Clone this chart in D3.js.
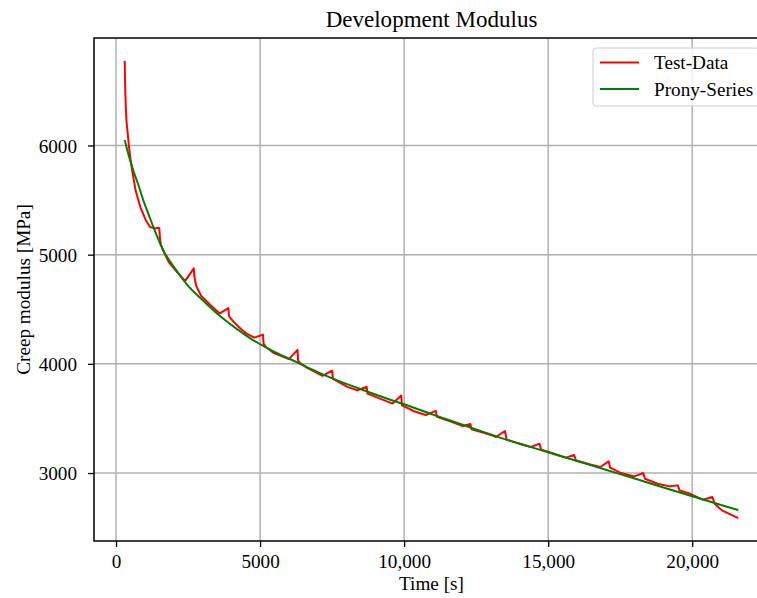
<!DOCTYPE html>
<html>
<head>
<meta charset="utf-8">
<script src="https://cdn.jsdelivr.net/npm/d3@7"></script>
<style>
  html, body { margin: 0; padding: 0; background: #fff; }
  svg { display: block; font-family: "Liberation Serif", "Times New Roman", serif; }
</style>
</head>
<body>
<svg id="chart" width="757" height="598"></svg>
<script>
// Measured creep test data (time in s, modulus in MPa)
const testTime = [300, 315, 335, 360, 390, 445, 500, 560, 680, 850, 1025, 1175, 1350, 1470, 1500,
  1525, 1560, 1662, 1835, 2125, 2400, 2700, 2715, 2780, 2950, 3300, 3600, 3900, 3920, 3980,
  4100, 4270, 4500, 4800, 5100, 5120, 5200, 5480, 6000, 6300, 6320, 6400, 6650, 7170, 7500,
  7530, 8030, 8380, 8700, 8730, 9250, 9600, 9900, 9925, 10350, 10750, 11100, 11140, 11620, 12030,
  12300, 12340, 12670, 13010, 13190, 13500, 13560, 14055, 14400, 14700, 14760, 15020, 15620, 15900, 15960,
  16430, 16810, 17100, 17150, 17530, 17990, 18300, 18360, 18800, 19210, 19500, 19560, 19850, 20370, 20700,
  20780, 21030, 21600];
const testModulus = [6775, 6560, 6380, 6230, 6150, 6000, 5880, 5771, 5587, 5430, 5320, 5255, 5240, 5247, 5242,
  5150, 5090, 5021, 4930, 4838, 4760, 4875, 4805, 4716, 4624, 4532, 4462, 4510, 4440, 4415,
  4380, 4335, 4282, 4240, 4268, 4185, 4155, 4098, 4043, 4128, 4030, 4005, 3960, 3890, 3939,
  3862, 3789, 3758, 3790, 3728, 3673, 3636, 3710, 3620, 3566, 3532, 3569, 3516, 3471, 3431,
  3450, 3401, 3376, 3349, 3330, 3385, 3306, 3263, 3239, 3269, 3214, 3193, 3141, 3165, 3117,
  3080, 3055, 3107, 3049, 3000, 2969, 3000, 2948, 2902, 2878, 2887, 2841, 2817, 2756, 2780,
  2719, 2658, 2587];

// Fitted Prony-series modulus
const pronyTime = [300, 450, 600, 800, 950, 1100, 1300, 1650, 2100, 2450, 3000, 3600, 4200, 4700,
  5500, 6300, 7000, 7600, 8500, 9300, 10000, 11000, 12000, 12650, 13300, 14000, 15000, 16000,
  17000, 18000, 19000, 20000, 21000, 21600];
const pronyModulus = [6050, 5900, 5770, 5620, 5495, 5390, 5250, 5035, 4855, 4730, 4585, 4440, 4318, 4227,
  4110, 4012, 3925, 3858, 3768, 3692, 3630, 3535, 3445, 3385, 3327, 3270, 3190, 3110,
  3030, 2950, 2868, 2787, 2708, 2660];

const xTicks = [0, 5000, 10000, 15000, 20000];
const yTicks = [3000, 4000, 5000, 6000];

const seriesNames = ["Test-Data", "Prony-Series"];
const seriesColors = ["#ff0000", "#008000"];

// ---- layout ----
const svg = d3.select("#chart");
const plot = { left: 94, top: 38, right: 769, bottom: 541 };
const baseFont = 19.2;

// axis limits with a 5% margin around the data
function padded(values) {
  const [lo, hi] = d3.extent(values);
  const m = (hi - lo) * 0.05;
  return [lo - m, hi + m];
}
const x = d3.scaleLinear()
  .domain(padded(testTime.concat(pronyTime)))
  .range([plot.left, plot.right]);
const y = d3.scaleLinear()
  .domain(padded(testModulus.concat(pronyModulus)))
  .range([plot.bottom, plot.top]);

const fmt = v => (Math.abs(v) >= 10000 ? d3.format(",")(v) : String(v));

svg.append("defs").append("clipPath").attr("id", "plotClip")
  .append("rect")
  .attr("x", plot.left).attr("y", plot.top)
  .attr("width", plot.right - plot.left).attr("height", plot.bottom - plot.top);

// grid
const grid = svg.append("g").attr("stroke", "#b0b0b0").attr("stroke-width", 1.5);
grid.selectAll("line.gx").data(xTicks).join("line")
  .attr("x1", d => x(d)).attr("x2", d => x(d))
  .attr("y1", plot.top).attr("y2", plot.bottom);
grid.selectAll("line.gy").data(yTicks).join("line")
  .attr("x1", plot.left).attr("x2", plot.right)
  .attr("y1", d => y(d)).attr("y2", d => y(d));

// axes
const xAxis = d3.axisBottom(x).tickValues(xTicks).tickFormat(fmt).tickSize(6).tickPadding(7);
const yAxis = d3.axisLeft(y).tickValues(yTicks).tickFormat(fmt).tickSize(6).tickPadding(11);

const gx = svg.append("g").attr("transform", `translate(0,${plot.bottom})`).call(xAxis);
const gy = svg.append("g").attr("transform", `translate(${plot.left},0)`).call(yAxis);
[gx, gy].forEach(g => {
  g.select(".domain").remove();
  g.selectAll(".tick line").attr("stroke", "#000").attr("stroke-width", 1.3);
  g.selectAll(".tick text")
    .attr("fill", "#000")
    .style("font-family", '"Liberation Serif", "Times New Roman", serif')
    .style("font-size", baseFont + "px");
});
gx.selectAll(".tick text").attr("dy", "0.71em");
gy.selectAll(".tick text").attr("dy", "0.34em");

// data lines
const lines = svg.append("g").attr("clip-path", "url(#plotClip)");
const lineGen = d3.line().x(d => x(d[0])).y(d => y(d[1]));
lines.append("path")
  .datum(testTime.map((t, i) => [t, testModulus[i]]))
  .attr("fill", "none").attr("stroke", seriesColors[0]).attr("stroke-width", 2)
  .attr("stroke-linejoin", "round")
  .attr("d", lineGen);
lines.append("path")
  .datum(pronyTime.map((t, i) => [t, pronyModulus[i]]))
  .attr("fill", "none").attr("stroke", seriesColors[1]).attr("stroke-width", 2)
  .attr("stroke-linejoin", "round")
  .attr("d", d3.line().curve(d3.curveMonotoneX).x(d => x(d[0])).y(d => y(d[1])));

// frame
svg.append("rect")
  .attr("x", plot.left).attr("y", plot.top)
  .attr("width", plot.right - plot.left).attr("height", plot.bottom - plot.top)
  .attr("fill", "none").attr("stroke", "#000").attr("stroke-width", 1.5);

// titles
svg.append("text")
  .attr("x", (plot.left + plot.right) / 2).attr("y", 27)
  .attr("text-anchor", "middle")
  .style("font-size", (baseFont * 1.2) + "px")
  .text("Development Modulus");
svg.append("text")
  .attr("x", (plot.left + plot.right) / 2).attr("y", 590)
  .attr("text-anchor", "middle")
  .style("font-size", baseFont + "px")
  .text("Time [s]");
svg.append("text")
  .attr("transform", `translate(29.5,${(plot.top + plot.bottom) / 2}) rotate(-90)`)
  .attr("text-anchor", "middle")
  .style("font-size", baseFont + "px")
  .text("Creep modulus [MPa]");

// legend
const legend = svg.append("g");
legend.append("rect")
  .attr("x", 593).attr("y", 48).attr("width", 166).attr("height", 58)
  .attr("rx", 3).attr("ry", 3)
  .attr("fill", "#fff").attr("fill-opacity", 0.8)
  .attr("stroke", "#cccccc").attr("stroke-width", 1);
seriesNames.forEach((name, i) => {
  const ly = 62.5 + i * 26.5;
  legend.append("line")
    .attr("x1", 600).attr("x2", 639).attr("y1", ly).attr("y2", ly)
    .attr("stroke", seriesColors[i]).attr("stroke-width", 2);
  legend.append("text")
    .attr("x", 654).attr("y", ly + 6.5)
    .style("font-size", baseFont + "px")
    .text(name);
});
</script>
</body>
</html>
